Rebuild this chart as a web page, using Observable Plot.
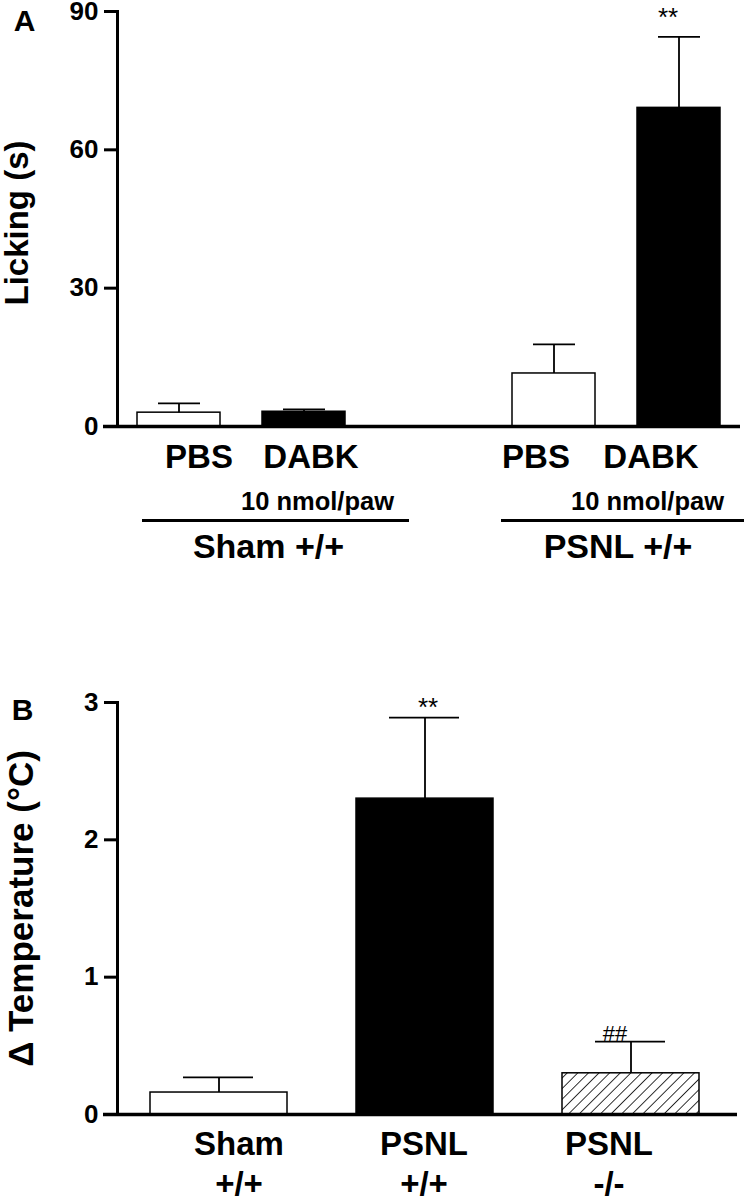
<!DOCTYPE html>
<html>
<head>
<meta charset="utf-8">
<script src="https://cdn.jsdelivr.net/npm/d3@7"></script>
<script src="https://cdn.jsdelivr.net/npm/@observablehq/plot@0.6"></script>
<style>
  html, body { margin: 0; padding: 0; background: #fff; }
  #chart svg { display: block; }
</style>
</head>
<body>
<div id="chart"></div>
<script>
// ---------- Panel A data ----------
const lickGroups = ["Sham +/+", "Sham +/+", "PSNL +/+", "PSNL +/+"];
const lickTreatments = ["PBS", "DABK", "PBS", "DABK"];
const lickMean = [3.0, 3.2, 11.5, 69.1];
const lickSem = [2.0, 0.5, 6.3, 15.4];
const lickSignif = ["", "", "", "**"];
const lickTicks = [0, 30, 60, 90];
const lickLabel = "Licking (s)";
const doseLabel = "10 nmol/paw";

// ---------- Panel B data ----------
const tempGroups = ["Sham\n+/+", "PSNL\n+/+", "PSNL\n-/-"];
const tempMean = [0.16, 2.3, 0.3];
const tempSem = [0.11, 0.59, 0.23];
const tempSignif = ["", "**", "##"];
const tempTicks = [0, 1, 2, 3];
const tempLabel = "Δ Temperature (°C)";

const FONT = "'Liberation Sans', Arial, Helvetica, sans-serif";

// ---------- Panel A ----------
const lick = lickMean.map((m, i) => ({
  key: lickGroups[i] + "|" + lickTreatments[i],
  group: lickGroups[i], treatment: lickTreatments[i],
  mean: m, sem: lickSem[i], sig: lickSignif[i], idx: i
}));
const slotsA = [lick[0].key, lick[1].key, "gap", lick[2].key, lick[3].key];
const treatDx = [20, 7, -18, -28];
const doseDx = [13.5, -31.5];
const groupDx = [89.5, 64];
const lineInset = [[5, -64], [-11, -24]];
const groupsA = [...new Set(lickGroups)];
const mid = {textAnchor: "middle", lineAnchor: "middle"};

const marksA = [
  Plot.barY(lick.filter(d => d.treatment === "PBS"), {x: "key", y: "mean", fill: "white", stroke: "black", strokeWidth: 1.5}),
  Plot.barY(lick.filter(d => d.treatment === "DABK"), {x: "key", y: "mean", fill: "black", stroke: "black", strokeWidth: 1.5}),
  Plot.ruleX(lick, {x: "key", y1: "mean", y2: d => d.mean + d.sem, stroke: "black", strokeWidth: 1.8}),
  Plot.tickY(lick, {x: "key", y: d => d.mean + d.sem, stroke: "black", strokeWidth: 1.8, insetLeft: 21, insetRight: 20}),
  Plot.text(lick.filter(d => d.sig), {x: "key", y: d => d.mean + d.sem, text: "sig", dy: -19, dx: -11, fontSize: 26, fontWeight: "normal"}),
  Plot.ruleY([0], {stroke: "black", strokeWidth: 3.5, insetLeft: -14}),
  Plot.frame({anchor: "left", stroke: "black", strokeWidth: 3}),
  Plot.axisY({ticks: lickTicks, tickSize: 13, tickPadding: 6, strokeWidth: 3, fontSize: 26, tickFormat: d3.format("d"), label: null}),
  ...lick.map((d, i) => Plot.text([d], {x: "key", text: "treatment", frameAnchor: "bottom", ...mid, dy: 31, dx: treatDx[i], fontSize: 33})),
  ...groupsA.map((g, j) => {
    const rows = lick.filter(d => d.group === g);
    const dabk = rows.find(d => d.treatment === "DABK");
    const pbs = rows.find(d => d.treatment === "PBS");
    return [
      Plot.text([dabk], {x: "key", text: () => doseLabel, frameAnchor: "bottom", ...mid, dy: 75, dx: doseDx[j], fontSize: 25.5}),
      Plot.ruleY([0], {x1: () => pbs.key, x2: () => dabk.key, dy: 94, stroke: "black", strokeWidth: 3, insetLeft: lineInset[j][0], insetRight: lineInset[j][1]}),
      Plot.text([pbs], {x: "key", text: "group", frameAnchor: "bottom", ...mid, dy: 121, dx: groupDx[j], fontSize: 34})
    ];
  }),
  Plot.text([lickLabel], {frameAnchor: "left", ...mid, rotate: -90, dx: -100, dy: 4, fontSize: 33}),
  Plot.text(["A"], {frameAnchor: "top-left", ...mid, dx: -93, dy: 10, fontSize: 30})
];

const plotA = Plot.plot({
  width: 747, height: 600,
  marginLeft: 117, marginRight: 7, marginTop: 11, marginBottom: 174,
  style: {fontFamily: FONT, fontWeight: "bold", color: "black", background: "white", overflow: "visible"},
  x: {domain: slotsA, paddingInner: 0.336, paddingOuter: 0.16, axis: null},
  y: {domain: [0, 90], axis: null},
  marks: marksA
});

// ---------- Panel B ----------
const temp = tempMean.map((m, i) => ({
  group: tempGroups[i], mean: m, sem: tempSem[i], sig: tempSignif[i], idx: i
}));
const tempFill = ["white", "black", "url(#hatch)"];
const labelDxB = [20, -1, -22];
const sigDxB = [0, 3, -16];
const sigDyB = [0, -10, -8];
const sigFontB = [24, 26, 22];

const marksB = [
  ...temp.map((d, i) => Plot.barY([d], {x: "group", y: "mean", fill: tempFill[i], stroke: "black", strokeWidth: 1.5})),
  Plot.ruleX(temp, {x: "group", y1: "mean", y2: d => d.mean + d.sem, stroke: "black", strokeWidth: 1.8}),
  Plot.tickY(temp, {x: "group", y: d => d.mean + d.sem, stroke: "black", strokeWidth: 1.8, insetLeft: 33, insetRight: 34}),
  ...temp.filter(d => d.sig).map(d => Plot.text([d], {x: "group", y: v => v.mean + v.sem, text: "sig", dy: sigDyB[d.idx], dx: sigDxB[d.idx], fontSize: sigFontB[d.idx], fontWeight: "normal", fontFamily: FONT})),
  Plot.ruleY([0], {stroke: "black", strokeWidth: 3.5, insetLeft: -14, insetRight: -5}),
  Plot.frame({anchor: "left", stroke: "black", strokeWidth: 3}),
  Plot.axisY({ticks: tempTicks, tickSize: 13, tickPadding: 6, strokeWidth: 3, fontSize: 26, tickFormat: d3.format("d"), label: null}),
  ...temp.map((d, i) => Plot.text([d], {x: "group", text: "group", frameAnchor: "bottom", ...mid, dy: 48, dx: labelDxB[i], fontSize: 33, lineHeight: 1.2})),
  Plot.text([tempLabel], {frameAnchor: "left", ...mid, rotate: -90, dx: -96, dy: 0, fontSize: 35}),
  Plot.text(["B"], {frameAnchor: "top-left", ...mid, dx: -95, dy: 8, fontSize: 30})
];

const plotB = Plot.plot({
  width: 747, height: 599,
  marginLeft: 117, marginRight: 15, marginTop: 102, marginBottom: 85,
  style: {fontFamily: FONT, fontWeight: "bold", color: "black", background: "white", overflow: "visible"},
  x: {domain: tempGroups, paddingInner: 0.335, paddingOuter: 0.16, axis: null},
  y: {domain: [0, 3], axis: null},
  marks: marksB
});

// hatch pattern for the knockout bar
const ns = "http://www.w3.org/2000/svg";
const defs = document.createElementNS(ns, "defs");
defs.innerHTML = '<pattern id="hatch" patternUnits="userSpaceOnUse" width="7.5" height="7.5" patternTransform="rotate(45)">' +
  '<rect width="7.5" height="7.5" fill="white"></rect>' +
  '<line x1="0" y1="0" x2="0" y2="7.5" stroke="black" stroke-width="1.6"></line></pattern>';
plotB.insertBefore(defs, plotB.firstChild);

document.getElementById("chart").append(plotA, plotB);
</script>
</body>
</html>
